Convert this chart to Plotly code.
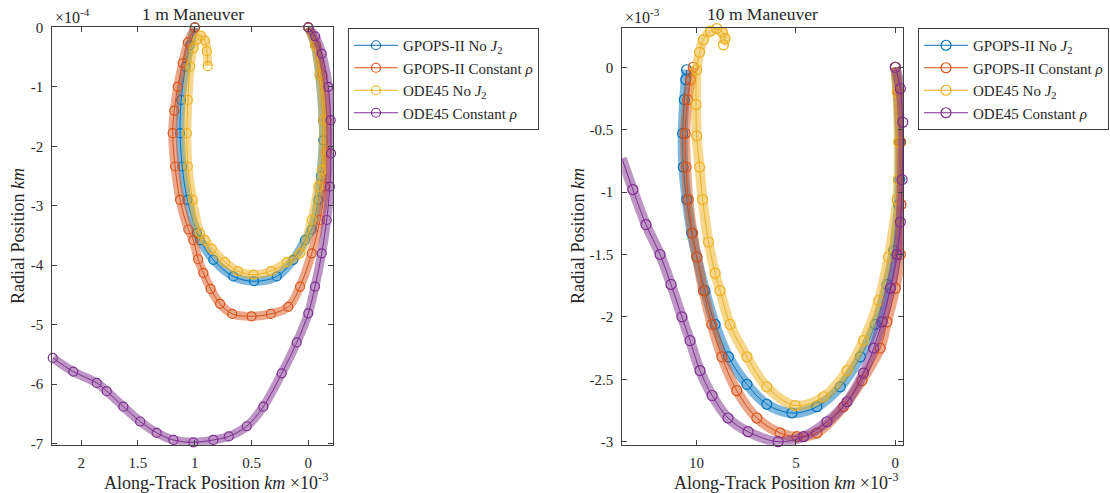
import plotly.graph_objects as go

# ---------------- 1 m maneuver (along-track: 1e-3 km, radial: 1e-4 km) ----------------
m1_gpops_noj2_x = [0.0, -0.06, -0.10, -0.13, -0.132, -0.11, -0.088, -0.03, 0.029, 0.132, 0.278,
                   0.478, 0.66, 0.836, 0.953, 0.98, 1.065, 1.11, 1.129, 1.12, 1.08, 1.04, 1.0]
m1_gpops_noj2_y = [0.0, -0.3, -0.8, -1.56, -1.9, -2.5, -2.9, -3.4, -3.58, -3.91, -4.19,
                   -4.27, -4.19, -3.91, -3.58, -3.46, -2.90, -2.34, -1.78, -1.22, -0.66, -0.3, 0.0]

m1_gpops_rho_x = [0.0, -0.07, -0.125, -0.162, -0.16, -0.147, -0.103, -0.03, 0.073, 0.176, 0.33,
                  0.50, 0.67, 0.777, 0.86, 0.924, 0.97, 1.012, 1.056, 1.129, 1.173, 1.194, 1.18,
                  1.15, 1.106, 1.06, 0.997]
m1_gpops_rho_y = [0.0, -0.3, -0.8, -1.56, -2.1, -2.68, -3.24, -3.80, -4.36, -4.70, -4.82,
                  -4.86, -4.82, -4.65, -4.40, -4.13, -3.90, -3.58, -3.40, -2.90, -2.34, -1.78, -1.4,
                  -1.0, -0.6, -0.25, 0.0]

m1_ode_noj2_x = [0.0, -0.06, -0.10, -0.132, -0.12, -0.088, -0.03, 0.073, 0.19, 0.33, 0.484,
                 0.62, 0.733, 0.85, 0.909, 0.953, 1.018, 1.06, 1.07, 1.06, 1.04, 1.01, 0.975,
                 0.945, 0.91, 0.893, 0.885]
m1_ode_noj2_y = [0.0, -0.3, -0.8, -1.56, -2.4, -2.68, -3.24, -3.80, -3.95, -4.10, -4.16,
                 -4.10, -3.95, -3.72, -3.58, -3.46, -2.90, -2.34, -1.78, -1.22, -0.66, -0.35, -0.2,
                 -0.14, -0.22, -0.40, -0.65]

m1_ode_rho_x = [0.0, -0.06, -0.118, -0.176, -0.197, -0.200, -0.190, -0.162, -0.118, -0.059, 0.0,
                0.102, 0.234, 0.396, 0.542, 0.70, 0.836, 1.012, 1.188, 1.335, 1.48, 1.628, 1.775,
                1.863, 2.069, 2.25]
m1_ode_rho_y = [0.0, -0.15, -0.44, -1.0, -1.56, -2.12, -2.68, -3.24, -3.80, -4.36, -4.81,
                -5.30, -5.82, -6.38, -6.71, -6.88, -6.94, -6.98, -6.94, -6.82, -6.63, -6.38, -6.12,
                -5.98, -5.79, -5.56]

# ---------------- 10 m maneuver (along-track: 1e-3 km, radial: 1e-3 km) ----------------
m10_gpops_noj2_x = [0.0, -0.12, -0.22, -0.22, -0.17, 0.085, 0.42, 1.01, 1.76, 2.77, 3.95, 5.21,
                    6.47, 7.47, 8.40, 9.07, 9.58, 9.99, 10.25, 10.50, 10.67, 10.70, 10.62, 10.55, 10.50]
m10_gpops_noj2_y = [0.0, -0.2, -0.6, -0.9, -1.1, -1.47, -1.74, -2.06, -2.32, -2.56, -2.72, -2.77,
                    -2.70, -2.54, -2.32, -2.06, -1.79, -1.52, -1.33, -1.06, -0.80, -0.53, -0.26, -0.1, -0.02]

m10_gpops_rho_x = [0.0, -0.15, -0.27, -0.28, -0.25, 0.0, 0.42, 0.76, 1.68, 2.61, 3.95, 4.95,
                   5.80, 6.97, 7.98, 8.73, 9.24, 9.66, 9.99, 10.20, 10.42, 10.53, 10.58, 10.45,
                   10.30, 10.17]
m10_gpops_rho_y = [0.0, -0.2, -0.6, -1.1, -1.50, -1.77, -2.04, -2.25, -2.51, -2.72, -2.93, -2.96,
                   -2.93, -2.81, -2.59, -2.32, -2.06, -1.79, -1.52, -1.33, -1.06, -0.80, -0.53, -0.26,
                   -0.1, 0.0]

m10_ode_noj2_x = [0.0, -0.1, -0.17, -0.15, -0.09, 0.34, 0.84, 1.60, 2.43, 3.61, 5.04, 6.47,
                  7.47, 8.32, 8.82, 9.07, 9.40, 9.70, 9.85, 10.0, 10.03, 10.0, 9.85, 9.66, 9.30,
                  8.99, 8.70, 8.57, 8.65]
m10_ode_noj2_y = [0.0, -0.2, -0.6, -0.9, -1.06, -1.52, -1.87, -2.19, -2.43, -2.64, -2.71, -2.56,
                  -2.32, -2.06, -1.79, -1.65, -1.40, -1.06, -0.80, -0.55, -0.30, -0.02, 0.12, 0.22,
                  0.29, 0.31, 0.28, 0.23, 0.18]

m10_ode_rho_x = [0.0, -0.25, -0.37, -0.34, -0.25, -0.085, 0.25, 0.67, 1.09, 1.60, 2.43, 3.44,
                 4.62, 5.90, 7.41, 8.42, 9.22, 9.83, 10.33, 10.74, 11.29, 11.84, 12.55, 13.21, 13.76]
m10_ode_rho_y = [0.0, -0.17, -0.44, -0.9, -1.24, -1.50, -1.77, -2.04, -2.25, -2.45, -2.68, -2.84,
                 -2.96, -3.0, -2.92, -2.81, -2.63, -2.43, -2.19, -2.0, -1.74, -1.50, -1.26, -0.98, -0.73]

series_names = ["GPOPS-II No <i>J</i><sub>2</sub>", "GPOPS-II Constant <i>ρ</i>",
                "ODE45 No <i>J</i><sub>2</sub>", "ODE45 Constant <i>ρ</i>"]
series_colors = ["#0072BD", "#D95319", "#EDB120", "#7E2F8E"]

m1_tick_x = [2, 1.5, 1, 0.5, 0]
m1_tick_x_text = ["2", "1.5", "1", "0.5", "0"]
m1_tick_y = [-7, -6, -5, -4, -3, -2, -1, 0]
m1_tick_y_text = ["-7", "-6", "-5", "-4", "-3", "-2", "-1", "0"]
m10_tick_x = [10, 5, 0]
m10_tick_x_text = ["10", "5", "0"]
m10_tick_y = [-3, -2.5, -2, -1.5, -1, -0.5, 0]
m10_tick_y_text = ["-3", "-2.5", "-2", "-1.5", "-1", "-0.5", "0"]

FONT = "'Liberation Serif', Tinos, 'Times New Roman', serif"
INK = "#262626"
W, H = 1110, 493

fig = go.Figure()


def add_series(x, y, name, color, xa, ya, legend, size):
    # soft ribbon under the ring markers
    fig.add_trace(go.Scatter(
        x=x, y=y, mode="lines", xaxis=xa, yaxis=ya, showlegend=False, hoverinfo="skip",
        line=dict(color=color, width=size, shape="spline"), opacity=0.5, cliponaxis=False))
    fig.add_trace(go.Scatter(
        x=x, y=y, mode="lines+markers", name=name, xaxis=xa, yaxis=ya, legend=legend,
        line=dict(color=color, width=1, shape="spline"),
        marker=dict(symbol="circle-open", size=size, color=color, line=dict(width=1.2)),
        cliponaxis=False))


m1_sets = [(m1_gpops_noj2_x, m1_gpops_noj2_y), (m1_gpops_rho_x, m1_gpops_rho_y),
           (m1_ode_noj2_x, m1_ode_noj2_y), (m1_ode_rho_x, m1_ode_rho_y)]
m10_sets = [(m10_gpops_noj2_x, m10_gpops_noj2_y), (m10_gpops_rho_x, m10_gpops_rho_y),
            (m10_ode_noj2_x, m10_ode_noj2_y), (m10_ode_rho_x, m10_ode_rho_y)]

for (x, y), name, color in zip(m1_sets, series_names, series_colors):
    add_series(x, y, name, color, "x", "y", "legend", 9)
for (x, y), name, color in zip(m10_sets, series_names, series_colors):
    add_series(x, y, name, color, "x2", "y2", "legend2", 10)


def px_x(p):
    return p / W


def px_y(p):
    return 1 - p / H


axis_common = dict(showline=True, linecolor="#404040", linewidth=1, mirror="ticks",
                   ticks="inside", ticklen=5, tickcolor="#404040", showgrid=False,
                   zeroline=False, tickfont=dict(family=FONT, size=15, color=INK))

legend_common = dict(xanchor="left", yanchor="top", bgcolor="white", bordercolor="#404040",
                     borderwidth=1, font=dict(family=FONT, size=15, color=INK),
                     itemwidth=44, tracegroupgap=0)

fig.update_layout(
    width=W, height=H, margin=dict(l=0, r=0, t=0, b=0, autoexpand=False),
    paper_bgcolor="white", plot_bgcolor="white",
    xaxis=dict(domain=[px_x(52.3), px_x(333.3)], range=[2.254, -0.22], anchor="y",
               tickvals=m1_tick_x, ticktext=m1_tick_x_text, ticklabelstandoff=4, **axis_common),
    yaxis=dict(domain=[px_y(444.7), px_y(27.4)], range=[-7.02, 0], anchor="x",
               tickvals=m1_tick_y, ticktext=m1_tick_y_text, ticklabelstandoff=5, **axis_common),
    xaxis2=dict(domain=[px_x(622.3), px_x(903.3)], range=[13.74, -0.40], anchor="y2",
                tickvals=m10_tick_x, ticktext=m10_tick_x_text, ticklabelstandoff=4, **axis_common),
    yaxis2=dict(domain=[px_y(444.7), px_y(27.7)], range=[-3.024, 0.317], anchor="x2",
                tickvals=m10_tick_y, ticktext=m10_tick_y_text, ticklabelstandoff=5, **axis_common),
    legend=dict(x=px_x(348), y=px_y(28), **legend_common),
    legend2=dict(x=px_x(918), y=px_y(28), **legend_common),
    showlegend=True,
)

annotations = [
    # titles
    dict(text="1 m Maneuver", x=px_x(192.7), y=px_y(14), font=dict(size=17.5)),
    dict(text="10 m Maneuver", x=px_x(762.7), y=px_y(14), font=dict(size=17.5)),
    # exponent labels for the radial axes
    dict(text="×10<sup>-4</sup>", x=px_x(53), y=px_y(16), xanchor="left", font=dict(size=16)),
    dict(text="×10<sup>-3</sup>", x=px_x(623), y=px_y(16), xanchor="left", font=dict(size=16)),
    # along-track axis titles with exponent
    dict(text="Along-Track Position <i>km</i> ×10<sup>-3</sup>", x=px_x(216), y=px_y(481),
         font=dict(size=18)),
    dict(text="Along-Track Position <i>km</i> ×10<sup>-3</sup>", x=px_x(786.5), y=px_y(481),
         font=dict(size=18)),
    # radial axis titles
    dict(text="Radial Position <i>km</i>", x=px_x(18), y=px_y(236), textangle=-90,
         font=dict(size=18)),
    dict(text="Radial Position <i>km</i>", x=px_x(578), y=px_y(236), textangle=-90,
         font=dict(size=18)),
]
for a in annotations:
    a.setdefault("xanchor", "center")
    a["yanchor"] = "middle"
    a["xref"] = "paper"
    a["yref"] = "paper"
    a["showarrow"] = False
    a["font"] = dict(family=FONT, color=INK, size=a["font"]["size"])
fig.update_layout(annotations=annotations)

fig.write_html("out.html")
